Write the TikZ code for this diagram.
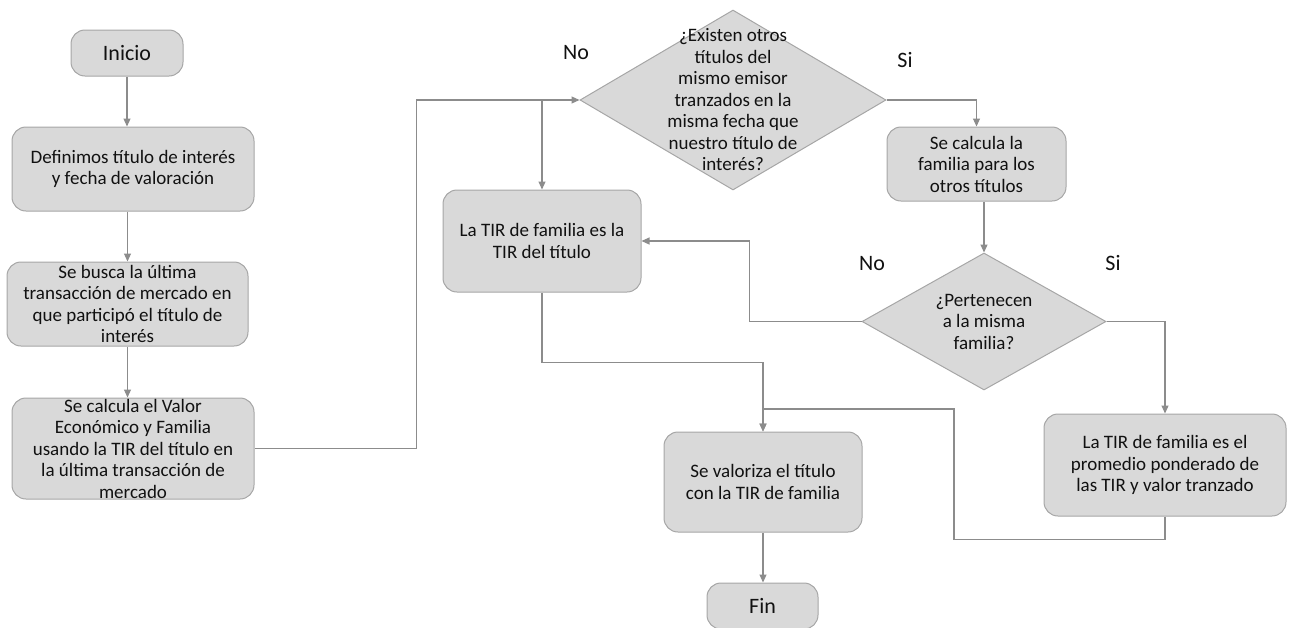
\documentclass[tikz,border=0pt]{standalone}
\usepackage{fontspec}
\setmainfont{Carlito}
\usetikzlibrary{shapes.geometric,arrows.meta}
\definecolor{boxfill}{HTML}{D9D9D9}
\definecolor{boxline}{HTML}{A6A6A6}
\definecolor{linec}{HTML}{8C8C8C}
\definecolor{txt}{HTML}{111111}
\begin{document}
\begin{tikzpicture}[x=1pt,y=-1pt,
  box/.style={draw=boxline, fill=boxfill, rounded corners=14pt, line width=1pt,
    inner sep=0pt, align=center, text=txt, font=\fontsize{19}{21.5}\selectfont},
  dia/.style={diamond, draw=boxline, fill=boxfill, line width=1pt, inner sep=0pt},
  dtext/.style={align=center, text=txt, font=\fontsize{19}{21.5}\selectfont},
  lbl/.style={text=txt, font=\fontsize{22}{24}\selectfont},
  conn/.style={draw=linec, line width=1.1pt, -{Triangle[length=8pt,width=7pt]}},
  plain/.style={draw=linec, line width=1.1pt}]
\useasboundingbox (0,0) rectangle (1290,627);

% left column
\node[box, minimum width=112, minimum height=46, font=\fontsize{22}{24}\selectfont] (ini) at (127,53) {Inicio};
\node[box, minimum width=242, minimum height=84] (def) at (133,169) {Definimos título de interés\\y fecha de valoración};
\node[box, minimum width=241, minimum height=84] (bus) at (127.5,304) {Se busca la última\\transacción de mercado en\\que participó el título de\\interés};
\node[box, minimum width=242, minimum height=101] (cal) at (133,448.5) {Se calcula el Valor\\Económico y Familia\\usando la TIR del título en\\la última transacción de\\mercado};

% diamonds
\node[dia, minimum width=306, minimum height=180] (d1) at (733,100) {};
\node[dtext] (d1t) at (733,100) {¿Existen otros\\títulos del\\mismo emisor\\tranzados en la\\misma fecha que\\nuestro título de\\interés?};
\node[dia, minimum width=244, minimum height=137] (d2) at (984,321.5) {};
\node[dtext] (d2t) at (984,321.5) {¿Pertenecen\\a la misma\\familia?};

% other boxes
\node[box, minimum width=198, minimum height=102] (tir) at (542,241) {La TIR de familia es la\\TIR del título};
\node[box, minimum width=179, minimum height=74] (fam) at (976.5,164) {Se calcula la\\familia para los\\otros títulos};
\node[box, minimum width=242, minimum height=102] (pro) at (1165,465) {La TIR de familia es el\\promedio ponderado de\\las TIR y valor tranzado};
\node[box, minimum width=198, minimum height=100] (val) at (763,482) {Se valoriza el título\\con la TIR de familia};
\node[box, minimum width=111, minimum height=46, font=\fontsize{22}{24}\selectfont] (fin) at (762.5,606) {Fin};

% labels
\node[lbl] (no1) at (576,53) {No};
\node[lbl] (si1) at (905,60) {Si};
\node[lbl] (no2) at (872,264) {No};
\node[lbl] (si2) at (1113,263) {Si};

% connectors
\draw[conn] (ini.south) -- (ini.south |- def.north);
\draw[conn] (def.south -| bus.north) -- (bus.north);
\draw[conn] (bus.south) -- (bus.south |- cal.north);
\draw[conn] (cal.east) -- ++(162,0) |- (d1.west);
\coordinate (br) at (tir.north |- d1.west);
\draw[conn] (br) -- (tir.north);
\draw[conn] (d1.east) -| (fam.north);
\draw[conn] (fam.south -| d2.north) -- (d2.north);
\draw[conn] (d2.west) -- ++(-112,0) |- (tir.east);
\draw[conn] (d2.east) -| (pro.north);
\coordinate (j1) at (954,409);
\draw[conn] (pro.south) -- ++(0,23) -| (j1) -| (val.north);
\draw[conn] (tir.south) -- ++(0,70) -| (val.north);
\draw[conn] (val.south) -- (val.south |- fin.north);
\end{tikzpicture}
\end{document}
